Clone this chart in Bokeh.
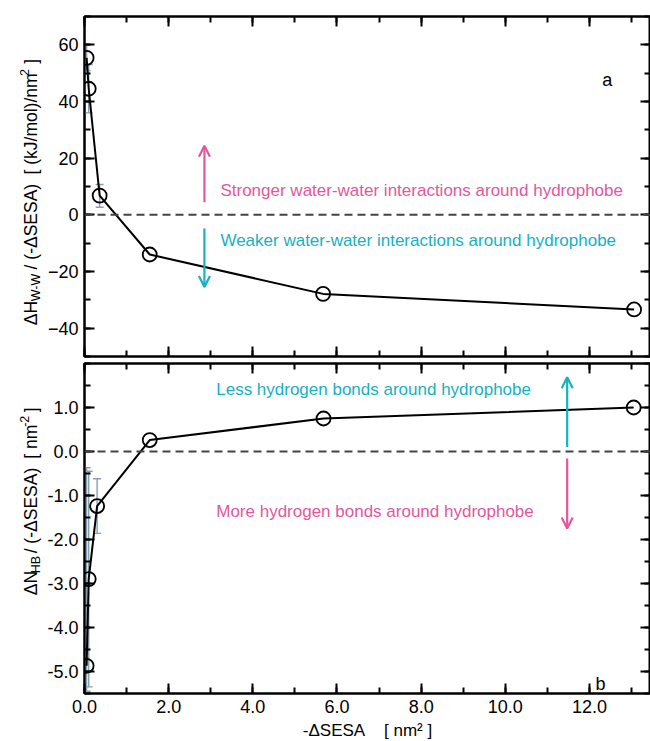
import math
from bokeh.plotting import figure
from bokeh.models import (ColumnDataSource, Whisker, Span, Label, Arrow, OpenHead, TeeHead,
                          LinearAxis, FixedTicker, NumeralTickFormatter, Range1d, CustomLabelingPolicy)
from bokeh.core.properties import value
from bokeh.layouts import column, row
from bokeh.embed import file_html
from bokeh.resources import INLINE

# ---------------- data ----------------
a_x = [0.05, 0.10, 0.36, 1.55, 5.67, 13.06]
a_y = [55.4, 44.5, 6.8, -14.0, -27.9, -33.4]
a_err_lo = [4.5, 8.5, 4.1, 0, 0, 0]
a_err_hi = [4.5, 8.5, 3.9, 0, 0, 0]

b_x = [0.05, 0.10, 0.30, 1.55, 5.68, 13.05]
b_y = [-4.87, -2.90, -1.24, 0.26, 0.75, 1.00]
b_err_lo = [0.58, 2.45, 0.62, 0, 0, 0]
b_err_hi = [4.50, 2.45, 0.62, 0, 0, 0]

x_ticks = [0, 2, 4, 6, 8, 10, 12]
x_minor = list(range(0, 14))
a_ticks = [-40, -20, 0, 20, 40, 60]
a_minor = list(range(-50, 71, 10))
b_ticks = [-5, -4, -3, -2, -1, 0, 1]
b_minor = [v / 2 for v in range(-11, 5)]

FONT = "Liberation Sans"
MAG = "#e2589e"
CYA = "#17b1bf"
ERR = "#86a0ad"

X0, X1 = 0.0, 13.45
FL, FW = 84, 566
LW = 44  # width of the strip holding the rotated y-axis titles

# approximate Liberation Sans advance widths (per 1000 em)
CW = {" ": 278, "\u00a0": 278, "(": 333, ")": 333, "-": 333, "/": 278, "[": 278, "]": 278,
      "\u0394": 668, "A": 667, "B": 667, "E": 667, "H": 722, "J": 500, "N": 722, "S": 667,
      "W": 944, "k": 500, "l": 222, "m": 833, "n": 556, "o": 556, "2": 556}


def tw(s, size):
    return sum(CW.get(c, 556) for c in s) * size / 1000.0


def style_axis(ax, labels=True):
    ax.major_tick_in = 10
    ax.major_tick_out = 0
    ax.minor_tick_in = 6
    ax.minor_tick_out = 0
    ax.axis_line_width = 2
    ax.axis_line_color = "black"
    ax.major_tick_line_width = 2
    ax.minor_tick_line_width = 2
    ax.major_tick_line_color = "black"
    ax.minor_tick_line_color = "black"
    ax.major_label_text_font = FONT
    ax.major_label_text_color = "black"
    if labels:
        ax.major_label_text_font_size = "18px"
        ax.major_label_standoff = 6
    else:
        ax.major_label_text_font_size = "0px"
        ax.major_label_standoff = 0
        ax.major_label_policy = CustomLabelingPolicy(code="return new Set()")
        ax.axis_label = None


def make_fig(yr, fh, top, bottom):
    p = figure(frame_width=FW, frame_height=fh, x_range=Range1d(X0, X1), y_range=Range1d(*yr),
               min_border_left=FL - LW, min_border_right=0, min_border_top=top,
               min_border_bottom=bottom, output_backend="svg", toolbar_location=None,
               background_fill_color="white", border_fill_color="white")
    p.grid.visible = False
    p.outline_line_color = "black"
    p.outline_line_width = 2
    return p


def add_all_axes(p, xt, yt, ym, xlabels, yfmt=None):
    bottom = p.below[0]
    left = p.left[0]
    bottom.ticker = FixedTicker(ticks=xt, minor_ticks=x_minor)
    left.ticker = FixedTicker(ticks=yt, minor_ticks=ym)
    if yfmt is not None:
        left.formatter = yfmt
    bottom.formatter = NumeralTickFormatter(format="0.0")
    style_axis(bottom, labels=xlabels)
    style_axis(left, labels=True)
    top = LinearAxis(ticker=FixedTicker(ticks=xt, minor_ticks=x_minor))
    style_axis(top, labels=False)
    p.add_layout(top, "above")
    right = LinearAxis(ticker=FixedTicker(ticks=yt, minor_ticks=ym))
    style_axis(right, labels=False)
    p.add_layout(right, "right")
    return bottom


def add_series(p, xs, ys, elo, ehi):
    keep = [i for i in range(len(xs)) if elo[i] > 0 or ehi[i] > 0]
    ws = ColumnDataSource(dict(x=[xs[i] for i in keep],
                               lower=[ys[i] - elo[i] for i in keep],
                               upper=[ys[i] + ehi[i] for i in keep]))
    p.add_layout(Whisker(source=ws, base="x", lower="lower", upper="upper", level="underlay",
                         line_color=ERR, line_width=1.4,
                         upper_head=TeeHead(size=8, line_color=ERR, line_width=1.4),
                         lower_head=TeeHead(size=8, line_color=ERR, line_width=1.4)))
    src = ColumnDataSource(dict(x=xs, y=ys))
    p.line("x", "y", source=src, line_color="black", line_width=2)
    p.scatter("x", "y", source=src, marker="circle", size=14, fill_color=None,
              line_color="black", line_width=1.8)


def title_strip(h, page_top, pieces, sy0, cx):
    """narrow figure holding a rotated y title built from pieces (with sub/superscripts)"""
    f = figure(width=LW, height=h, x_range=Range1d(0, LW), y_range=Range1d(0, h),
               min_border=0, x_axis_type=None, y_axis_type=None,
               output_backend="svg", toolbar_location=None,
               background_fill_color="white", border_fill_color="white")
    f.grid.visible = False
    f.outline_line_color = None
    sy = sy0
    for txt, size, shift, gap in pieces:
        sy -= gap
        txt = txt.replace(" ", "\u00a0")
        lead = len(txt) - len(txt.lstrip("\u00a0"))
        start = sy - tw(txt[:lead], size)
        shown = txt.strip("\u00a0")
        f.text(x=[cx + shift], y=[h - (start - page_top)], text=[shown], angle=math.pi / 2,
               text_align="left", text_baseline="middle", text_font=value(FONT),
               text_font_size=value(f"{size}px"), text_color="black")
        sy -= tw(txt, size)
    return f


# ---------------- panel a ----------------
A_RANGE = (-50, 70)
pa = make_fig(A_RANGE, 340, 16, 3)
add_all_axes(pa, x_ticks, a_ticks, a_minor, xlabels=False)
pa.add_layout(Span(location=0, dimension="width", line_color="#444444", line_dash="8 5", line_width=2))
add_series(pa, a_x, a_y, a_err_lo, a_err_hi)

pa.add_layout(Arrow(end=OpenHead(size=11, line_color=MAG, line_width=2.2), x_start=2.85, y_start=4.4,
                    x_end=2.85, y_end=24.4, line_color=MAG, line_width=2.2))
pa.add_layout(Arrow(end=OpenHead(size=11, line_color=CYA, line_width=2.2), x_start=2.85, y_start=-4.8,
                    x_end=2.85, y_end=-25.5, line_color=CYA, line_width=2.2))
pa.add_layout(Label(x=3.23, y=8.6, text="Stronger water-water interactions around hydrophobe",
                    text_font=FONT, text_font_size="17px", text_color=MAG, text_baseline="middle"))
pa.add_layout(Label(x=3.23, y=-9.1, text="Weaker water-water interactions around hydrophobe",
                    text_font=FONT, text_font_size="17px", text_color=CYA, text_baseline="middle"))
pa.add_layout(Label(x=12.42, y=47.7, text="a", text_font=FONT, text_font_size="18px",
                    text_align="center", text_baseline="middle", text_color="black"))

ta = title_strip(359, 0,
                 [("\u0394H", 17.5, 0, 0), ("W-W", 12.5, 5.0, 1), (" / (-\u0394SESA)", 17.5, 0, 1),
                  ("   [ (kJ/mol)/nm", 17.5, 0, 0), ("2", 12.5, -7, 3), (" ]", 17.5, 0, 1)],
                 326, 30.5)

# ---------------- panel b ----------------
B_RANGE = (-5.5, 2.0)
pb = make_fig(B_RANGE, 330, 4, 0)
xb = add_all_axes(pb, x_ticks, b_ticks, b_minor, xlabels=True, yfmt=NumeralTickFormatter(format="0.0"))
xb.major_label_standoff = 6
xb.axis_label = "-\u0394SESA\u00a0\u00a0\u00a0\u00a0[ nm\u00b2 ]"
xb.axis_label_text_font = FONT
xb.axis_label_text_font_size = "17px"
xb.axis_label_text_font_style = "normal"
xb.axis_label_text_color = "black"
xb.axis_label_standoff = 5
pb.add_layout(Span(location=0, dimension="width", line_color="#444444", line_dash="8 5", line_width=2))
add_series(pb, b_x, b_y, b_err_lo, b_err_hi)

pb.add_layout(Arrow(end=OpenHead(size=11, line_color=CYA, line_width=2.2), x_start=11.47, y_start=0.1,
                    x_end=11.47, y_end=1.69, line_color=CYA, line_width=2.2))
pb.add_layout(Arrow(end=OpenHead(size=11, line_color=MAG, line_width=2.2), x_start=11.47, y_start=-0.16,
                    x_end=11.47, y_end=-1.75, line_color=MAG, line_width=2.2))
pb.add_layout(Label(x=3.13, y=1.42, text="Less hydrogen bonds around hydrophobe",
                    text_font=FONT, text_font_size="17px", text_color=CYA, text_baseline="middle"))
pb.add_layout(Label(x=3.13, y=-1.36, text="More hydrogen bonds around hydrophobe",
                    text_font=FONT, text_font_size="17px", text_color=MAG, text_baseline="middle"))
pb.add_layout(Label(x=12.26, y=-5.28, text="b", text_font=FONT, text_font_size="18px",
                    text_align="center", text_baseline="middle", text_color="black"))

tb = title_strip(382, 359,
                 [("\u0394N", 17.5, 0, 0), ("HB", 12.5, 5.0, 1), (" / (-\u0394SESA)", 17.5, 0, 1),
                  ("     [ nm", 17.5, 0, 0), ("-2", 12.5, -7, 3), (" ]", 17.5, 0, 1)],
                 628, 30.5)

layout = column(row(ta, pa, spacing=0), row(tb, pb, spacing=0), spacing=0)
open("out.html", "w").write(file_html(layout, INLINE))
